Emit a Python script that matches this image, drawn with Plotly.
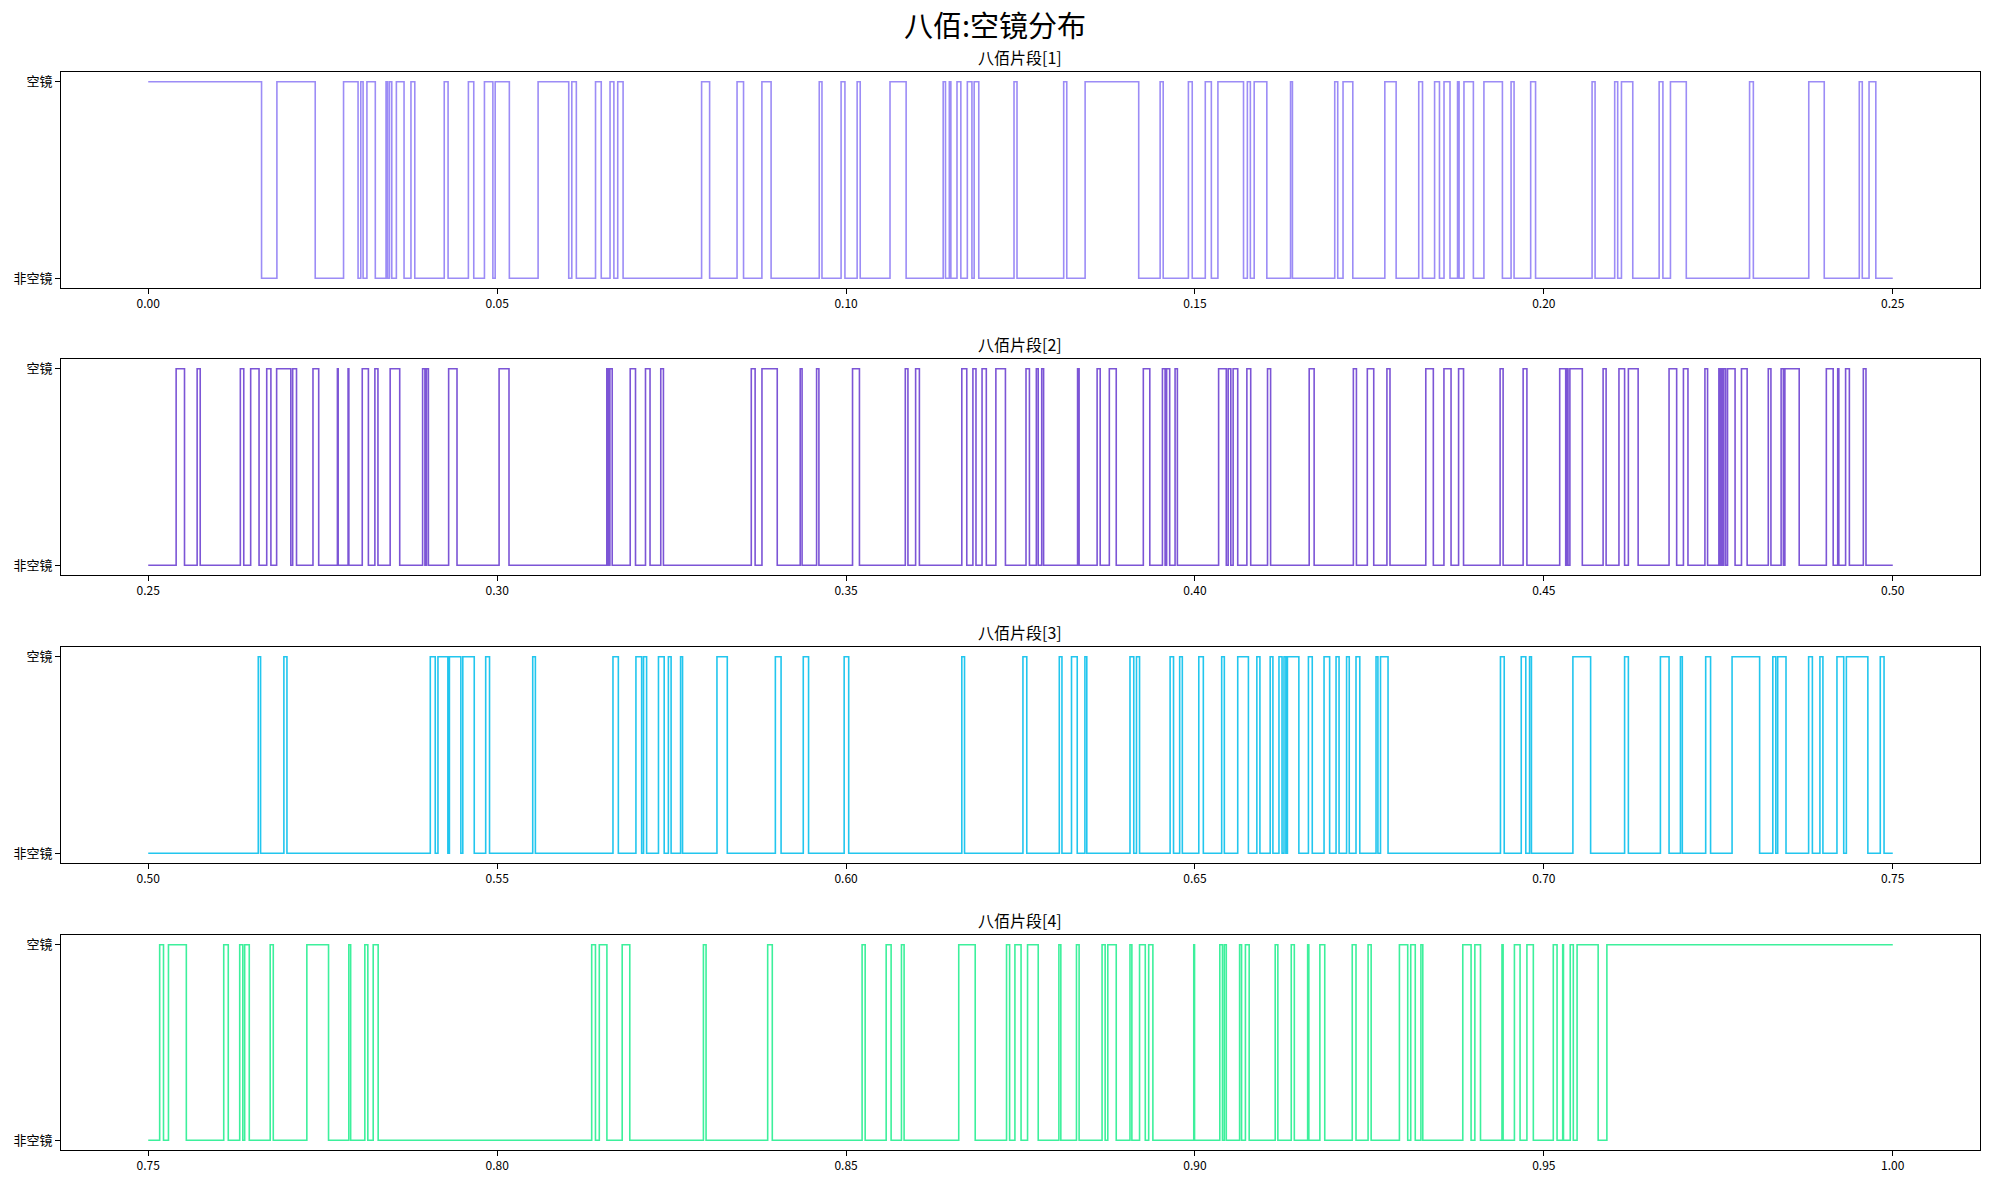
import plotly.graph_objects as go

# ---------------- data ----------------
main_title = "八佰:空镜分布"
segment_titles = ["八佰片段[1]", "八佰片段[2]", "八佰片段[3]", "八佰片段[4]"]
state_labels = ["非空镜", "空镜"]          # 0, 1
segment_bounds = [(0.00, 0.25), (0.25, 0.50), (0.50, 0.75), (0.75, 1.00)]
segment_start_state = [1, 0, 0, 0]
segment_colors = ["#9c8cf6", "#7c55d6", "#22c6ee", "#3df09c"]
segment_ticks = [
    [0.00, 0.05, 0.10, 0.15, 0.20, 0.25],
    [0.25, 0.30, 0.35, 0.40, 0.45, 0.50],
    [0.50, 0.55, 0.60, 0.65, 0.70, 0.75],
    [0.75, 0.80, 0.85, 0.90, 0.95, 1.00],
]

# times at which the state flips (空镜 <-> 非空镜)
seg1_edges = [0.01624, 0.01844, 0.02393, 0.02799, 0.03007, 0.03046, 0.03079, 0.03134, 0.03254, 0.03408,
              0.03430, 0.03457, 0.03490, 0.03556, 0.03666, 0.03765, 0.03820, 0.04242, 0.04297, 0.04588,
              0.04665, 0.04818, 0.04939, 0.04972, 0.05175, 0.05587, 0.06026, 0.06070, 0.06135, 0.06410,
              0.06492, 0.06618, 0.06673, 0.06728, 0.06805, 0.07930, 0.08045, 0.08438, 0.08531, 0.08794,
              0.08926, 0.09616, 0.09655, 0.09929, 0.09984, 0.10159, 0.10203, 0.10630, 0.10861, 0.11392,
              0.11425, 0.11480, 0.11502, 0.11590, 0.11645, 0.11738, 0.11804, 0.11836, 0.11902, 0.12407,
              0.12450, 0.13119, 0.13163, 0.13426, 0.14194, 0.14501, 0.14545, 0.14906, 0.14961, 0.15148,
              0.15235, 0.15329, 0.15696, 0.15751, 0.15794, 0.15849, 0.16030, 0.16370, 0.16397, 0.17003,
              0.17046, 0.17122, 0.17262, 0.17721, 0.17883, 0.18207, 0.18261, 0.18434, 0.18504, 0.18569,
              0.18655, 0.18763, 0.18785, 0.18855, 0.18990, 0.19141, 0.19406, 0.19530, 0.19573, 0.19811,
              0.19881, 0.20691, 0.20734, 0.21015, 0.21058, 0.21112, 0.21274, 0.21652, 0.21706, 0.21814,
              0.22041, 0.22948, 0.23002, 0.23796, 0.24018, 0.24520, 0.24563, 0.24660, 0.24757]

seg2_edges = [0.25400, 0.25520, 0.25701, 0.25745, 0.26320, 0.26369, 0.26468, 0.26588, 0.26698, 0.26758,
              0.26840, 0.27043, 0.27070, 0.27125, 0.27361, 0.27443, 0.27711, 0.27722, 0.27864, 0.27875,
              0.28067, 0.28155, 0.28248, 0.28292, 0.28467, 0.28604, 0.28932, 0.28965, 0.28987, 0.29015,
              0.29305, 0.29425, 0.30028, 0.30170, 0.31572, 0.31594, 0.31616, 0.31649, 0.31907, 0.31983,
              0.32126, 0.32191, 0.32345, 0.32383, 0.33642, 0.33697, 0.33795, 0.34014, 0.34343, 0.34370,
              0.34578, 0.34611, 0.35093, 0.35192, 0.35849, 0.35887, 0.35997, 0.36051, 0.36659, 0.36730,
              0.36818, 0.36862, 0.36949, 0.37010, 0.37147, 0.37284, 0.37579, 0.37628, 0.37727, 0.37754,
              0.37804, 0.37831, 0.38318, 0.38340, 0.38598, 0.38642, 0.38773, 0.38872, 0.39260, 0.39353,
              0.39534, 0.39572, 0.39594, 0.39638, 0.39715, 0.39748, 0.40339, 0.40449, 0.40476, 0.40514,
              0.40547, 0.40613, 0.40744, 0.40799, 0.41040, 0.41084, 0.41637, 0.41708, 0.42270, 0.42314,
              0.42470, 0.42562, 0.42751, 0.42795, 0.43308, 0.43416, 0.43568, 0.43670, 0.43778, 0.43849,
              0.44373, 0.44416, 0.44703, 0.44757, 0.45227, 0.45313, 0.45335, 0.45346, 0.45373, 0.45551,
              0.45849, 0.45892, 0.46076, 0.46157, 0.46211, 0.46351, 0.46794, 0.46903, 0.47000, 0.47065,
              0.47308, 0.47346, 0.47508, 0.47530, 0.47540, 0.47562, 0.47578, 0.47605, 0.47632, 0.47740,
              0.47832, 0.47913, 0.48216, 0.48254, 0.48400, 0.48432, 0.48454, 0.48659, 0.49048, 0.49146,
              0.49211, 0.49227, 0.49324, 0.49378, 0.49578, 0.49616]

seg3_edges = [0.51577, 0.51610, 0.51944, 0.51988, 0.54042, 0.54113, 0.54152, 0.54294, 0.54316, 0.54480,
              0.54508, 0.54672, 0.54836, 0.54891, 0.55510, 0.55548, 0.56660, 0.56737, 0.56989, 0.57071,
              0.57098, 0.57142, 0.57312, 0.57394, 0.57454, 0.57493, 0.57629, 0.57657, 0.58150, 0.58298,
              0.58987, 0.59069, 0.59387, 0.59463, 0.59973, 0.60038, 0.61659, 0.61698, 0.62535, 0.62590,
              0.63056, 0.63094, 0.63231, 0.63313, 0.63423, 0.63450, 0.64069, 0.64123, 0.64162, 0.64206,
              0.64644, 0.64693, 0.64781, 0.64819, 0.65055, 0.65120, 0.65383, 0.65421, 0.65613, 0.65766,
              0.65887, 0.65931, 0.66078, 0.66117, 0.66204, 0.66248, 0.66276, 0.66303, 0.66325, 0.66489,
              0.66626, 0.66681, 0.66850, 0.66930, 0.67022, 0.67065, 0.67173, 0.67211, 0.67308, 0.67362,
              0.67595, 0.67622, 0.67659, 0.67767, 0.69378, 0.69432, 0.69676, 0.69741, 0.69795, 0.69822,
              0.70416, 0.70670, 0.71157, 0.71211, 0.71670, 0.71794, 0.71957, 0.71984, 0.72319, 0.72389,
              0.72697, 0.73092, 0.73281, 0.73324, 0.73351, 0.73470, 0.73794, 0.73848, 0.73956, 0.73999,
              0.74200, 0.74297, 0.74335, 0.74643, 0.74821, 0.74875]

seg4_edges = [0.75164, 0.75219, 0.75290, 0.75546, 0.76082, 0.76147, 0.76311, 0.76355, 0.76382, 0.76448,
              0.76748, 0.76792, 0.77273, 0.77584, 0.77874, 0.77901, 0.78104, 0.78147, 0.78224, 0.78295,
              0.81355, 0.81409, 0.81464, 0.81573, 0.81792, 0.81901, 0.82956, 0.82994, 0.83877, 0.83943,
              0.85230, 0.85274, 0.85575, 0.85646, 0.85794, 0.85832, 0.86615, 0.86851, 0.87300, 0.87344,
              0.87420, 0.87508, 0.87601, 0.87754, 0.88050, 0.88078, 0.88302, 0.88340, 0.88669, 0.88713,
              0.88751, 0.88872, 0.89069, 0.89096, 0.89206, 0.89288, 0.89337, 0.89397, 0.89983, 0.89994,
              0.90356, 0.90394, 0.90421, 0.90449, 0.90640, 0.90668, 0.90723, 0.90777, 0.91150, 0.91188,
              0.91380, 0.91424, 0.91615, 0.91632, 0.91790, 0.91860, 0.92254, 0.92308, 0.92481, 0.92525,
              0.92930, 0.93049, 0.93092, 0.93157, 0.93238, 0.93265, 0.93838, 0.93957, 0.94011, 0.94092,
              0.94400, 0.94416, 0.94578, 0.94659, 0.94757, 0.94849, 0.95135, 0.95189, 0.95270, 0.95281,
              0.95378, 0.95422, 0.95476, 0.95778, 0.95903]

segment_edges = [seg1_edges, seg2_edges, seg3_edges, seg4_edges]

# ---------------- figure ----------------
W, H = 1990, 1181
FONT = "Noto Sans CJK SC, Noto Sans, sans-serif"

# pixel layout of the four axes frames (top, bottom)
frames_px = [(72, 288), (359, 575), (647, 863), (935, 1150)]
x_dom = [61 / W, 1980 / W]

fig = go.Figure()
annotations = []
for i in range(4):
    lo, hi = segment_bounds[i]
    state = segment_start_state[i]
    xs = [lo]
    ys = [state]
    for e in segment_edges[i]:
        state = 1 - state
        xs.append(e)
        ys.append(state)
    xs.append(hi)
    ys.append(state)

    n = i + 1
    sfx = str(n) if n > 1 else ""
    fig.add_trace(go.Scatter(
        x=xs, y=ys, mode="lines", line=dict(color=segment_colors[i], width=1.6, shape="hv"),
        xaxis="x" + sfx, yaxis="y" + sfx,
        showlegend=False, hoverinfo="x+y",
    ))

    top, bot = frames_px[i]
    ydom = [1 - bot / H, 1 - top / H]
    span = hi - lo
    xa = dict(
        domain=x_dom, range=[lo - 0.05 * span, hi + 0.05 * span],
        tickvals=segment_ticks[i], ticktext=[f"{v:.2f}" for v in segment_ticks[i]],
        showline=True, mirror=True, linecolor="black", linewidth=1,
        ticks="outside", ticklen=5, tickwidth=1, tickcolor="black",
        showgrid=False, zeroline=False, anchor="y" + sfx,
        tickfont=dict(family=FONT, size=12, color="black"),
    )
    ya = dict(
        domain=ydom, range=[-0.05, 1.05],
        tickvals=[0, 1], ticktext=state_labels,
        showline=True, mirror=True, linecolor="black", linewidth=1,
        ticks="outside", ticklen=5, tickwidth=1, tickcolor="black",
        showgrid=False, zeroline=False, anchor="x" + sfx,
        tickfont=dict(family=FONT, size=13, color="black"),
    )
    fig.layout["xaxis" + sfx] = xa
    fig.layout["yaxis" + sfx] = ya

    annotations.append(dict(
        text=segment_titles[i], x=(x_dom[0] + x_dom[1]) / 2, y=1 - (top - 15) / H,
        xref="paper", yref="paper", xanchor="center", yanchor="middle", showarrow=False,
        font=dict(family=FONT, size=16, color="black"),
    ))

annotations.append(dict(
    text=main_title, x=0.5, y=1 - 24 / H, xref="paper", yref="paper",
    xanchor="center", yanchor="middle", showarrow=False,
    font=dict(family=FONT, size=29, color="black"),
))

fig.update_layout(
    width=W, height=H, margin=dict(l=0, r=0, t=0, b=0),
    paper_bgcolor="white", plot_bgcolor="white",
    annotations=annotations, font=dict(family=FONT),
)

fig.write_html("out.html", config={"displayModeBar": False})
